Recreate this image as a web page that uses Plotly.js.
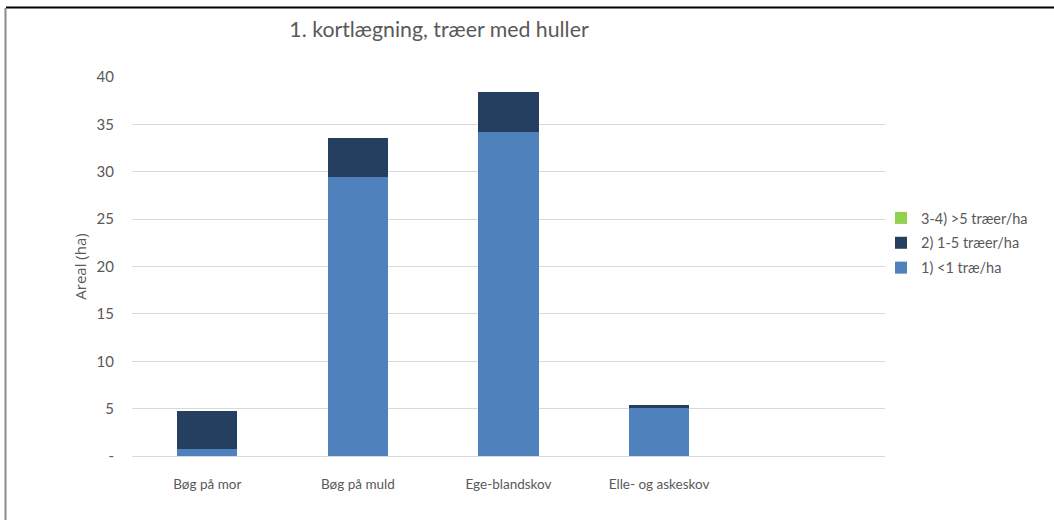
<!DOCTYPE html>
<html>
<head>
<meta charset="utf-8">
<script src="https://cdn.plot.ly/plotly-3.0.1.min.js"></script>
<style>
html,body{margin:0;padding:0;background:#fff;}
#chart{width:1054px;height:520px;}
</style>
</head>
<body>
<div id="chart"></div>
<script>
const categories = ["Bøg på mor", "Bøg på muld", "Ege-blandskov", "Elle- og askeskov"];
const seriesNames = ["1) <1 træ/ha", "2) 1-5 træer/ha", "3-4) >5 træer/ha"];
const s1 = [0.75, 29.4, 34.2, 5.1];
const s2 = [4.0, 4.2, 4.2, 0.3];
const s3 = [0, 0, 0, 0];
const yTickVals = [0, 5, 10, 15, 20, 25, 30, 35, 40];
const yTickText = ["-", "5", "10", "15", "20", "25", "30", "35", "40"];

const colors = ["#4f81bd", "#243f60", "#92d050"];
const narrow = "Lato, Open Sans, sans-serif";
const txt = "#595959";

const seriesVals = [s1, s2, s3];
const data = seriesVals.map((v, i) => ({
  type: "bar",
  name: seriesNames[i],
  x: categories,
  y: v,
  marker: {color: colors[i], line: {width: 0}},
  legendgroup: "g" + i,
  legendrank: 10 - i,
  hoverinfo: "x+y+name"
}));

const L = 132, R = 885, T = 77, B = 456, W = 1054, H = 520;
const pw = R - L, ph = B - T;
const px = x => (x - L) / pw;
const py = y => (B - y) / ph;

const layout = {
  width: W, height: H,
  margin: {l: L, r: W - R, t: T, b: H - B, pad: 0},
  paper_bgcolor: "#ffffff",
  plot_bgcolor: "#ffffff",
  barmode: "stack",
  bargap: 0.6,
  showlegend: true,
  title: {
    text: "1. kortlægning, træer med huller",
    font: {family: narrow, size: 21.3, color: txt},
    xref: "container", x: 439 / W, xanchor: "center",
    yref: "container", y: 1 - 30 / H, yanchor: "middle"
  },
  xaxis: {
    type: "category",
    categoryorder: "array",
    categoryarray: categories,
    range: [-0.5, 4.5],
    showgrid: false,
    zeroline: false,
    showline: true,
    linecolor: "#d9d9d9",
    linewidth: 1,
    ticks: "",
    ticklabelstandoff: 16,
    tickfont: {family: narrow, size: 13.5, color: txt},
    fixedrange: true
  },
  yaxis: {
    range: [0, 40],
    tickvals: yTickVals,
    ticktext: yTickText,
    showgrid: true,
    gridcolor: "#d9d9d9",
    gridwidth: 1,
    zeroline: false,
    showline: false,
    ticks: "",
    ticklabelstandoff: 17,
    tickfont: {family: narrow, size: 15, color: txt},
    title: {text: "Areal (ha)", font: {family: "Open Sans, sans-serif", size: 15, color: txt}, standoff: 6},
    automargin: false,
    fixedrange: true
  },
  legend: {
    x: px(881), xanchor: "left",
    y: py(243), yanchor: "middle",
    traceorder: "grouped",
    tracegroupgap: 3,
    font: {family: narrow, size: 14.5, color: txt},
    itemwidth: 30,
    bgcolor: "rgba(0,0,0,0)"
  },
  shapes: [
    {type: "line", xref: "paper", yref: "paper", x0: px(6), x1: px(1054), y0: py(7.5), y1: py(7.5), line: {color: "#000000", width: 2}},
    {type: "line", xref: "paper", yref: "paper", x0: px(5.5), x1: px(5.5), y0: py(8), y1: py(520), line: {color: "#8c8c8c", width: 2}}
  ]
};

Plotly.newPlot("chart", data, layout, {displayModeBar: false, staticPlot: true});
</script>
</body>
</html>
